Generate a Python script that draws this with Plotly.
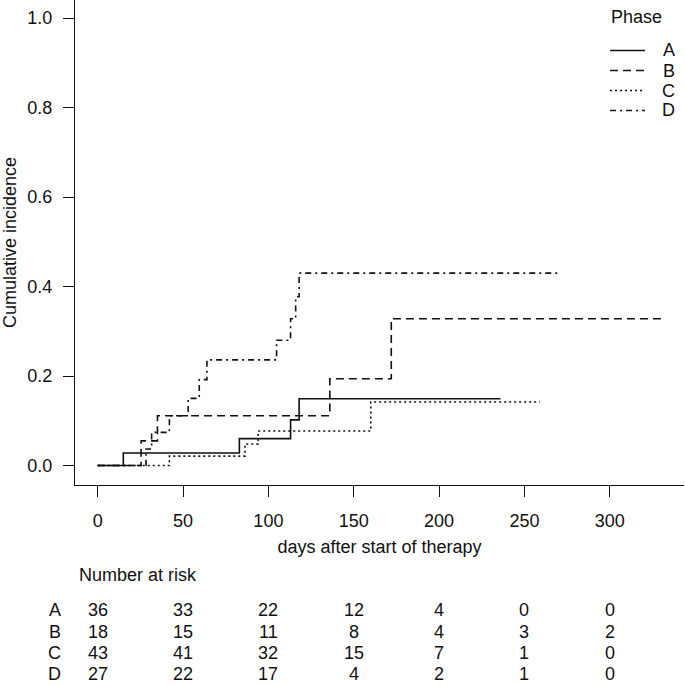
import plotly.graph_objects as go

# ---- data ----
phases = ["A", "B", "C", "D"]

a_days = [0, 15, 83, 113, 118, 236]
a_inc = [0.0, 0.028, 0.060, 0.102, 0.149, 0.149]

b_days = [0, 25.4, 35, 136, 172, 331]
b_inc = [0.0, 0.055, 0.111, 0.194, 0.328, 0.328]

c_days = [0, 42, 86.3, 94, 160, 259]
c_inc = [0.0, 0.021, 0.048, 0.077, 0.142, 0.142]

d_days = [0, 28.3, 31.6, 42, 53, 59.5, 64, 104.8, 113, 116, 118, 270.4]
d_inc = [0.0, 0.037, 0.074, 0.111, 0.150, 0.192, 0.236, 0.280, 0.328, 0.377, 0.430, 0.430]

risk_times = [0, 50, 100, 150, 200, 250, 300]
risk_a = [36, 33, 22, 12, 4, 0, 0]
risk_b = [18, 15, 11, 8, 4, 3, 2]
risk_c = [43, 41, 32, 15, 7, 1, 0]
risk_d = [27, 22, 17, 4, 2, 1, 0]

x_ticks = [0, 50, 100, 150, 200, 250, 300]
y_ticks = [0.0, 0.2, 0.4, 0.6, 0.8, 1.0]

# ---- styling ----
FONT = "Liberation Sans, Arial, Helvetica, sans-serif"
TXT = "#111111"
W = H = 685
ML, MR, MT, MB = 75, 1, 0, 200
PLOT_W = W - ML - MR
PLOT_H = H - MT - MB

dashes = {"A": "solid", "B": "8px,5px", "C": "2px,3px", "D": "6px,4px,2px,4px"}
series = [
    ("A", a_days, a_inc),
    ("B", b_days, b_inc),
    ("C", c_days, c_inc),
    ("D", d_days, d_inc),
]

fig = go.Figure()
for name, xs, ys in series:
    fig.add_trace(go.Scatter(
        x=xs, y=ys, mode="lines", name=name, showlegend=False,
        line=dict(shape="hv", color=TXT, width=1.6, dash=dashes[name]),
    ))


def px_to_paper_x(px):
    return (px - ML) / PLOT_W


def px_to_paper_y(py):
    return (MT + PLOT_H - py) / PLOT_H


annotations = []
shapes = []

# legend (drawn as key lines + labels, R style)
annotations.append(dict(
    text="Phase", xref="paper", yref="paper",
    x=px_to_paper_x(609), y=px_to_paper_y(17.5),
    xanchor="left", yanchor="middle", showarrow=False,
    font=dict(family=FONT, size=18, color=TXT),
))
leg_y = [50.5, 70.5, 90.5, 110.5]
for name, ly in zip(phases, leg_y):
    shapes.append(dict(
        type="line", xref="paper", yref="paper",
        x0=px_to_paper_x(610), x1=px_to_paper_x(645),
        y0=px_to_paper_y(ly), y1=px_to_paper_y(ly),
        line=dict(color=TXT, width=1.6, dash=dashes[name]),
    ))
    annotations.append(dict(
        text=name, xref="paper", yref="paper",
        x=px_to_paper_x(668.5), y=px_to_paper_y(ly),
        xanchor="center", yanchor="middle", showarrow=False,
        font=dict(family=FONT, size=18, color=TXT),
    ))

# risk table
annotations.append(dict(
    text="Number at risk", xref="paper", yref="paper",
    x=px_to_paper_x(76.5), y=px_to_paper_y(574.5),
    xanchor="left", yanchor="middle", showarrow=False,
    font=dict(family=FONT, size=18, color=TXT),
))
row_y = [610.0, 631.5, 653.0, 674.2]
for name, counts, ry in zip(phases, [risk_a, risk_b, risk_c, risk_d], row_y):
    annotations.append(dict(
        text=name, xref="paper", yref="paper",
        x=px_to_paper_x(54.5), y=px_to_paper_y(ry),
        xanchor="center", yanchor="middle", showarrow=False,
        font=dict(family=FONT, size=18, color=TXT),
    ))
    for t, n in zip(risk_times, counts):
        annotations.append(dict(
            text=str(n), xref="x", yref="paper", x=t, y=px_to_paper_y(ry),
            xanchor="center", yanchor="middle", showarrow=False,
            font=dict(family=FONT, size=18, color=TXT),
        ))

fig.update_layout(
    width=W, height=H,
    margin=dict(l=ML, r=MR, t=MT, b=MB, autoexpand=False),
    paper_bgcolor="white", plot_bgcolor="white",
    font=dict(family=FONT, size=18, color=TXT),
    showlegend=False,
    annotations=annotations,
    shapes=shapes,
    xaxis=dict(
        range=[-13.3, 343.5], tickvals=x_ticks,
        showgrid=False, zeroline=False,
        showline=True, linecolor=TXT, linewidth=1.3, mirror=False,
        ticks="outside", ticklen=11, tickwidth=1.3, tickcolor=TXT,
        tickfont=dict(family=FONT, size=18),
        ticklabelstandoff=8,
        title=dict(text="days after start of therapy", standoff=10,
                   font=dict(family=FONT, size=18)),
    ),
    yaxis=dict(
        range=[-0.0436, 1.0403], tickvals=y_ticks, tickformat=".1f",
        showgrid=False, zeroline=False,
        showline=True, linecolor=TXT, linewidth=1.3, mirror=False,
        ticks="outside", ticklen=11, tickwidth=1.3, tickcolor=TXT,
        tickfont=dict(family=FONT, size=18),
        ticklabelstandoff=7,
        title=dict(text="Cumulative incidence", standoff=10,
                   font=dict(family=FONT, size=18)),
    ),
)

fig.write_html(
    "out.html",
    config={"displayModeBar": False},
    post_script="document.body.style.margin='0';document.body.style.padding='0';",
)
